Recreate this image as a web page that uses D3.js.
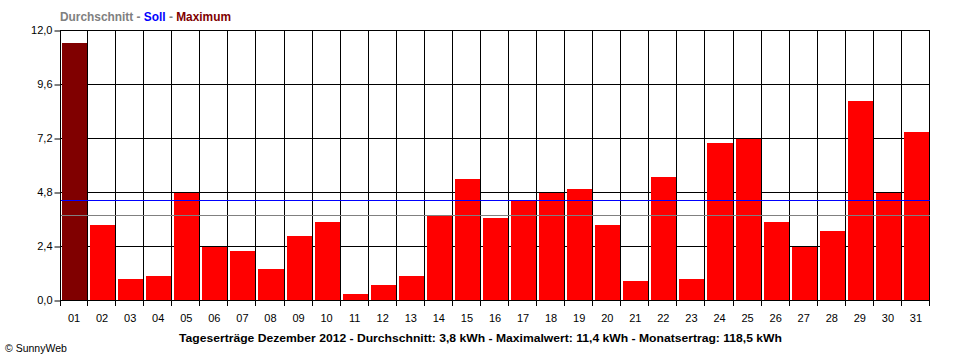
<!DOCTYPE html>
<html><head><meta charset="utf-8">
<script src="https://cdn.jsdelivr.net/npm/d3@7"></script>
<style>
body{margin:0;background:#fff;}
svg{display:block;font-family:"Liberation Sans",Arial,sans-serif;}
</style></head>
<body><svg id="c" width="960" height="360"></svg>
<script>
const days = ["01","02","03","04","05","06","07","08","09","10","11","12","13","14","15","16","17","18","19","20","21","22","23","24","25","26","27","28","29","30","31"];
const values = [11.4,3.33,0.93,1.07,4.77,2.37,2.18,1.38,2.84,3.47,0.27,0.67,1.07,3.76,5.38,3.64,4.43,4.77,4.93,3.33,0.84,5.47,0.93,6.98,7.16,3.47,2.37,3.07,8.84,4.77,7.47];
const yTicks = [0,2.4,4.8,7.2,9.6,12.0];
const average = 3.8;
const target = 4.43;
const maximum = 11.4;
const headerParts = [["Durchschnitt","#808080"],[" - ","#808080"],["Soll","#0000ff"],[" - ","#808080"],["Maximum","#800000"]];
const footer = "Tageserträge Dezember 2012 - Durchschnitt: 3,8 kWh - Maximalwert: 11,4 kWh - Monatsertrag: 118,5 kWh";
const credit = "© SunnyWeb";

const svg = d3.select("#c");
const L=60,R=930,T=30,B=300;
const x = d3.scaleBand().domain(days).range([L,R]).padding(0);
const y = d3.scaleLinear().domain([0,12]).range([B,T]);
const px = v => Math.round(v)+0.5;

// grid
const g = svg.append("g");
g.selectAll(".h").data(yTicks.filter(t=>t>0)).join("line")
  .attr("x1",L).attr("x2",R).attr("y1",d=>px(y(d))).attr("y2",d=>px(y(d)))
  .attr("stroke","#000").attr("stroke-width",1);
const bounds = days.map(d=>x(d)).concat([R]);
g.selectAll(".v").data(bounds.slice(1)).join("line")
  .attr("x1",d=>px(d)-1).attr("x2",d=>px(d)-1).attr("y1",T).attr("y2",B)
  .attr("stroke","#000").attr("stroke-width",1);
// top border
g.append("line").attr("x1",L).attr("x2",R).attr("y1",T+0.5).attr("y2",T+0.5).attr("stroke","#000");

// bars
svg.append("g").selectAll("rect").data(days.map((d,i)=>({d,v:values[i]}))).join("rect")
  .attr("x",d=>Math.round(x(d.d))+2)
  .attr("width",d=>Math.round(x(d.d)+x.bandwidth())-Math.round(x(d.d))-3)
  .attr("y",d=>Math.round(y(d.v)))
  .attr("height",d=>B-Math.round(y(d.v)))
  .attr("fill",d=>d.v===maximum?"#800000":"#ff0000");

// reference lines
svg.append("line").attr("x1",L).attr("x2",R).attr("y1",px(y(average))).attr("y2",px(y(average))).attr("stroke","#808080").attr("stroke-width",1);
svg.append("line").attr("x1",L).attr("x2",R).attr("y1",px(y(target))).attr("y2",px(y(target))).attr("stroke","#0000ff").attr("stroke-width",1);

// axes
const ya = svg.append("g").attr("transform",`translate(${L+0.5},0)`)
  .call(d3.axisLeft(y).tickValues(yTicks).tickFormat(d=>d3.format(".1f")(d).replace(".",",")).tickSize(6).tickPadding(2));
ya.select(".domain").attr("d",`M-6,${T}H0V${B}`).remove();
svg.append("line").attr("x1",L+0.5).attr("x2",L+0.5).attr("y1",T).attr("y2",B+1).attr("stroke","#000");
ya.selectAll("text").attr("font-size",11).attr("font-family","Liberation Sans, Arial, sans-serif").attr("fill","#000");
ya.selectAll(".tick line").attr("transform","translate(0,0.5)");

svg.append("line").attr("x1",L).attr("x2",R).attr("y1",B+0.5).attr("y2",B+0.5).attr("stroke","#000");
const tickG = svg.append("g");
tickG.selectAll("line").data(bounds).join("line")
  .attr("x1",(d,i)=>px(d)-(i>0?1:0)).attr("x2",(d,i)=>px(d)-(i>0?1:0)).attr("y1",B).attr("y2",B+6).attr("stroke","#000");
svg.append("g").selectAll("text").data(days).join("text")
  .attr("x",d=>x(d)+x.bandwidth()/2).attr("y",321.5)
  .attr("text-anchor","middle").attr("font-size",11).text(d=>d);

// header
const ht = svg.append("text").attr("x",60).attr("y",21).attr("font-size",12).attr("font-weight","bold")
  .attr("textLength",171).attr("lengthAdjust","spacingAndGlyphs");
ht.selectAll("tspan").data(headerParts).join("tspan").attr("fill",d=>d[1]).text(d=>d[0]);

svg.append("text").attr("x",179).attr("y",342).attr("font-size",11.5).attr("font-weight","bold")
  .attr("textLength",603).attr("lengthAdjust","spacingAndGlyphs").text(footer);
svg.append("text").attr("x",5).attr("y",352).attr("font-size",10.5).text(credit);
</script></body></html>
